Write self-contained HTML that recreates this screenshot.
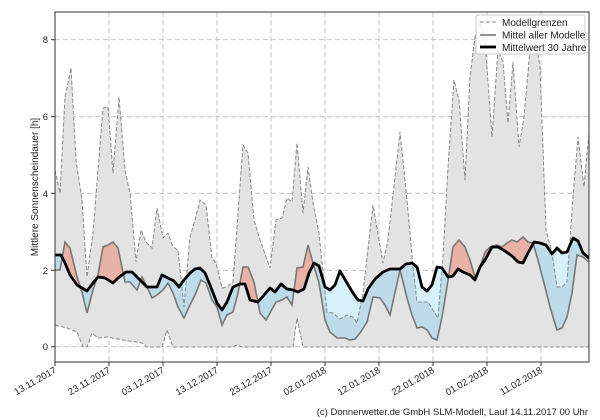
<!DOCTYPE html>
<html><head><meta charset="utf-8"><style>
body{margin:0;background:#fff;}
svg{display:block;font-family:"Liberation Sans","DejaVu Sans",sans-serif;}
</style></head><body>
<svg id="s" width="600" height="420" viewBox="0 0 600 420" xmlns="http://www.w3.org/2000/svg">
<defs>
<clipPath id="ax"><rect x="55" y="12" width="534" height="350"/></clipPath>
<clipPath id="above"><path id="cabove"/></clipPath>
<clipPath id="below"><path id="cbelow"/></clipPath>
</defs>
<g id="grid" stroke="#b8b8b8" stroke-dasharray="5,3" stroke-width="0.8"></g>
<g clip-path="url(#ax)">
<path id="gray" fill="#e3e3e3" stroke="none"/>
<path id="pink" fill="#e8b2a6" clip-path="url(#above)"/>
<path id="blue" fill="#bddbe8" clip-path="url(#below)"/>
<path id="lblue" fill="#d7f1fb" clip-path="url(#below)"/>
<path id="upl" fill="none" stroke="#888" stroke-width="1" stroke-dasharray="4,2"/>
<path id="lol" fill="none" stroke="#888" stroke-width="1" stroke-dasharray="4,2"/>
<path id="mod" fill="none" stroke="#777" stroke-width="1.6"/>
<path id="m30" fill="none" stroke="#000" stroke-width="2.8" stroke-linejoin="round"/>
</g>
<rect x="55" y="12" width="534" height="350" fill="none" stroke="#333" stroke-width="1"/>
<g id="ticks" font-size="9.5" fill="#222"></g>
<text transform="translate(38,187) rotate(-90)" text-anchor="middle" font-size="10" fill="#222">Mittlere Sonnenscheindauer [h]</text>
<g font-size="10" fill="#222">
<rect x="476" y="15" width="109" height="39" fill="#fff" fill-opacity="0.85" stroke="#ccc" rx="2"/>
<line x1="480" y1="22" x2="496" y2="22" stroke="#888" stroke-dasharray="4,2"/>
<text x="502" y="26">Modellgrenzen</text>
<line x1="480" y1="35" x2="496" y2="35" stroke="#777" stroke-width="1.6"/>
<text x="502" y="38.5">Mittel aller Modelle</text>
<line x1="480" y1="47" x2="496" y2="47" stroke="#000" stroke-width="2.8"/>
<text x="502" y="51">Mittelwert 30 Jahre</text>
</g>
<text x="588" y="415" text-anchor="end" font-size="9.5" fill="#222">(c) Donnerwetter.de GmbH SLM-Modell, Lauf 14.11.2017 00 Uhr</text>
</svg>
<script>
const up=[[55,170],[60,193],[65,97],[71,68],[76,160],[82,200],[87,277],[93,233],[103,108],[108,107],[113,173],[119,97],[125,170],[130,193],[136,262],[141,230],[146,242],[152,248],[157,208],[163,238],[168,233],[173,247],[178,250],[184,307],[190,237],[195,220],[200,200],[206,205],[212,258],[216,263],[222,288],[227,287],[233,282],[243,145],[248,153],[254,220],[260,240],[270,268],[276,220],[282,218],[287,198],[292,202],[297,143],[303,213],[308,167],[313,203],[319,233],[327,312],[333,313],[340,319],[347,315],[353,317],[357,323],[363,293],[373,205],[383,263],[388,240],[400,132],[407,200],[413,267],[417,302],[423,302],[428,302],[433,310],[438,318],[443,257],[448,167],[454,80],[459,100],[465,180],[470,77],[475,37],[480,20],[485,40],[492,137],[498,50],[503,62],[508,123],[513,62],[519,147],[524,117],[530,50],[535,33],[540,67],[546,230],[552,253],[557,287],[562,287],[567,282],[573,197],[578,137],[584,187],[589,133]];
const lo=[[55,325],[67,328],[77,332],[83,347],[87,347],[92,333],[98,338],[107,337],[123,340],[142,343],[147,347],[162,347],[167,330],[173,347],[232,347],[237,345],[242,347],[293,347],[297,318],[303,347],[589,347]];
const mod=[[55,270],[60,270],[65,242],[70,248],[77,277],[82,292],[87,313],[93,290],[98,275],[103,247],[108,245],[113,242],[118,248],[125,282],[130,282],[137,290],[142,277],[147,287],[152,298],[157,295],[163,290],[168,283],[173,293],[178,307],[184,318],[189,307],[195,295],[201,280],[206,283],[212,300],[217,307],[222,325],[227,315],[233,312],[238,293],[243,267],[248,267],[254,282],[260,313],[266,320],[270,313],[276,302],[282,300],[287,297],[292,305],[297,268],[303,267],[308,245],[313,263],[319,283],[325,320],[330,332],[337,338],[345,338],[350,340],[355,339],[360,333],[367,322],[373,297],[380,298],[385,305],[390,315],[400,270],[407,298],[412,315],[417,328],[422,327],[427,330],[432,338],[437,340],[442,317],[447,287],[453,247],[459,240],[465,247],[470,260],[475,277],[480,267],[485,252],[490,247],[497,245],[502,247],[507,243],[512,240],[517,242],[523,237],[528,242],[533,243],[538,260],[545,287],[550,307],[557,330],[562,328],[567,317],[572,293],[577,255],[583,257],[589,262]];
const m30=[[55,255],[61,255],[65,263],[70,275],[77,285],[82,288],[87,291],[93,283],[98,277],[105,278],[113,283],[118,278],[126,272],[132,272],[137,277],[142,282],[147,287],[157,287],[162,275],[168,278],[174,281],[179,287],[184,280],[190,273],[195,269],[200,268],[205,273],[210,285],[217,303],[222,310],[227,302],[233,287],[240,284],[245,284],[250,300],[258,302],[264,295],[270,288],[275,292],[281,284],[287,289],[293,290],[298,292],[304,289],[309,273],[314,263],[319,266],[325,287],[330,290],[335,285],[340,271],[347,283],[353,293],[358,300],[363,301],[368,289],[375,279],[383,272],[390,269],[400,269],[406,264],[412,263],[417,267],[422,287],[427,291],[432,285],[437,267],[442,268],[448,277],[453,276],[458,269],[463,272],[470,275],[475,280],[480,267],[485,260],[492,247],[498,247],[505,251],[512,256],[518,262],[523,263],[528,253],[534,242],[540,243],[546,245],[552,254],[557,248],[562,253],[567,252],[573,238],[578,241],[583,253],[589,258]];
const P=a=>a.map((p,i)=>(i?'L':'M')+p[0]+','+p[1]).join('');
const R=a=>a.slice().reverse().map(p=>'L'+p[0]+','+p[1]).join('');
const $=id=>document.getElementById(id);
$('gray').setAttribute('d',P(up)+R(lo)+'Z');
$('upl').setAttribute('d',P(up));$('lol').setAttribute('d',P(lo));
$('mod').setAttribute('d',P(mod));$('m30').setAttribute('d',P(m30));
$('pink').setAttribute('d',P(mod)+R(m30)+'Z');
$('blue').setAttribute('d',P(mod)+R(m30)+'Z');
$('lblue').setAttribute('d',P(up)+R(m30)+'Z');
$('cabove').setAttribute('d','M55,0'+m30.map(p=>'L'+p[0]+','+p[1]).join('')+'L589,0Z');
$('cbelow').setAttribute('d','M55,420'+m30.map(p=>'L'+p[0]+','+p[1]).join('')+'L589,420Z');
const g=$('grid'),t=$('ticks');let h='',th='';
const xs=[55,109,163,217,271,325,379,433,487,541];
const lab=['13.11.2017','23.11.2017','03.12.2017','13.12.2017','23.12.2017','02.01.2018','12.01.2018','22.01.2018','01.02.2018','11.02.2018'];
xs.forEach((x,i)=>{h+=`<line x1="${x}" y1="12" x2="${x}" y2="362"/>`;
th+=`<line x1="${x}" y1="362" x2="${x}" y2="366" stroke="#333"/>`;
th+=`<text transform="translate(${x+2},372) rotate(-30)" text-anchor="end">${lab[i]}</text>`;});
[[0,346.7],[2,270.3],[4,193.3],[6,116.7],[8,39.7]].forEach(([v,y])=>{h+=`<line x1="55" y1="${y}" x2="589" y2="${y}"/>`;
th+=`<line x1="51" y1="${y}" x2="55" y2="${y}" stroke="#333"/><text x="48" y="${y+3.5}" text-anchor="end">${v}</text>`;});
g.innerHTML=h;t.innerHTML=th;
</script>
</body></html>
